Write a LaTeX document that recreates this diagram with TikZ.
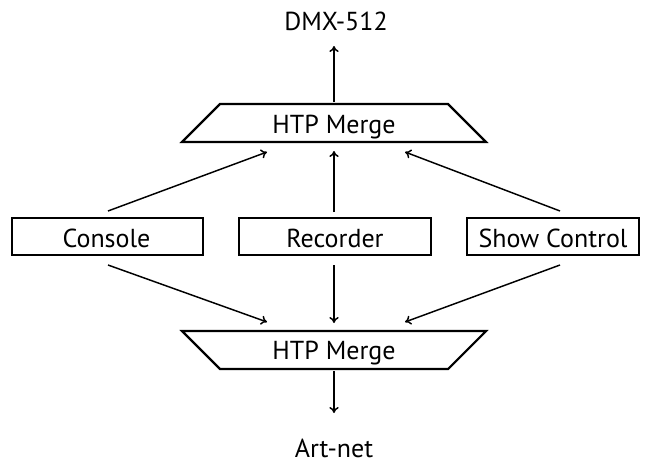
\documentclass[tikz,border=0pt]{standalone}
\usepackage{fontspec}
\setmainfont{PT Sans}
\usetikzlibrary{arrows.meta}
\begin{document}
\begin{tikzpicture}[x=0.75pt,y=-0.75pt,
  lbl/.style={font=\fontsize{19.5}{22}\selectfont,inner sep=0pt,anchor=base},
  boxline/.style={line width=1.6pt},
  trap/.style={line width=1.6pt,line join=miter},
  conn/.style={line width=1.1pt,-{To[length=4.5pt,width=7pt]}}]
\useasboundingbox (0,0) rectangle (645,464);
% boxes
\draw[boxline] (12,218) rectangle (203,255);
\node[lbl] (console) at (106.5,247) {Console};
\draw[boxline] (239,218) rectangle (431,255);
\node[lbl] (recorder) at (335,247) {Recorder};
\draw[boxline] (467,218) rectangle (639,255);
\node[lbl] (show) at (553,247) {Show Control};
\coordinate (c1t) at (108,211);
\coordinate (c2t) at (334,212);
\coordinate (c3t) at (560,211);
\coordinate (c1b) at (108,265);
\coordinate (c2b) at (334,265);
\coordinate (c3b) at (560,265);
% trapezoids
\draw[trap] (220,104) -- (448,104) -- (486,142) -- (182,142) -- cycle;
\node[lbl] (m1) at (334,133) {HTP Merge};
\draw[trap] (182,331) -- (486,331) -- (448,369) -- (220,369) -- cycle;
\node[lbl] (m2) at (334,359) {HTP Merge};
\coordinate (m1top) at (334,102);
\coordinate (m2bot) at (334,371);
\coordinate (m1l) at (267,152);
\coordinate (m1c) at (334,151);
\coordinate (m1r) at (405,152);
\coordinate (m2l) at (267,322);
\coordinate (m2c) at (334,323);
\coordinate (m2r) at (405,322);
\node[lbl] (dmx) at (336,30) {DMX-512};
\node[lbl] (art) at (334,457) {Art-net};
\draw[conn] (m1top) -- (334,46);
\draw[conn] (m2bot) -- (334,413);
\draw[conn] (c1t) -- (m1l);
\draw[conn] (c2t) -- (m1c);
\draw[conn] (c3t) -- (m1r);
\draw[conn] (c1b) -- (m2l);
\draw[conn] (c2b) -- (m2c);
\draw[conn] (c3b) -- (m2r);
\end{tikzpicture}
\end{document}
